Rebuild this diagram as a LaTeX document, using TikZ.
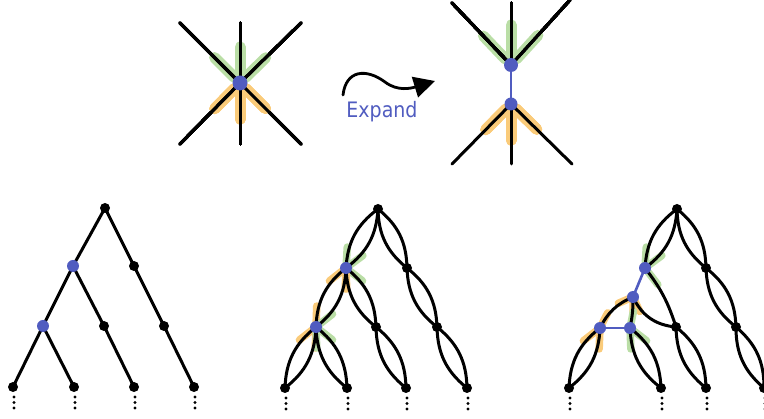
\documentclass[tikz,border=0pt]{standalone}
\usepackage{fontspec}
\usepackage{xcolor}
\usetikzlibrary{calc,arrows.meta}
\newfontfamily\handfont{DejaVu Sans}
\definecolor{vblue}{RGB}{80,92,192}
\definecolor{hgreen}{RGB}{186,222,166}
\definecolor{horange}{RGB}{250,203,122}
\tikzset{
  edge/.style={line width=3pt, line cap=round},
  bedge/.style={line width=2.6pt, line cap=round, draw=vblue},
  hlg/.style={line width=7.5pt, line cap=round, draw=hgreen},
  hlo/.style={line width=7.5pt, line cap=round, draw=horange},
  bighl/.style={line width=11pt},
}
% glow along a half edge: style, vertex, angle, towards, from, to
\newcommand{\glow}[6]{\draw[#1] ($(#2)!#5!#3:(#4)$) -- ($(#2)!#6!#3:(#4)$);}

\begin{document}
\begin{tikzpicture}[x=1pt,y=-1pt]
\clip (0,0) rectangle (764,419);

% one vertex
\coordinate (S) at (240,83);
\coordinate (sa) at (180,23);
\coordinate (sb) at (240,23);
\coordinate (sc) at (301,23);
\coordinate (sd) at (180,144);
\coordinate (se) at (240,144);
\coordinate (sf) at (301,144);
\foreach \e in {sa,sb,sc} \glow{hlg,bighl}{S}{0}{\e}{8pt}{36pt}
\foreach \e in {sd,se,sf} \glow{hlo,bighl}{S}{0}{\e}{8pt}{36pt}
\foreach \e in {sa,sb,sc,sd,se,sf} \draw[edge] (S) -- (\e);
\fill[vblue] (S) circle (7.5pt);

% arrow
\coordinate (arrs) at (343,95);
\coordinate (arre) at (435,81);
\draw[line width=2.8pt, line cap=round, -{Triangle[length=21pt,width=21pt]}] (arrs) .. controls (346,70) and (366,68) .. (385,82) .. controls (398,92) and (412,88) .. (arre);
\node[text=vblue, font=\handfont\fontsize{19}{20}\selectfont, yscale=1.12, transform shape] (lbl) at (382,112) {Expand};

% expanded vertex
\coordinate (T) at (511,65);
\coordinate (U) at (511,104);
\coordinate (ta) at (452,3);
\coordinate (tb) at (511,3);
\coordinate (tc) at (570,0);
\coordinate (ua) at (452,164);
\coordinate (ub) at (511,164);
\coordinate (uc) at (572,164);
\foreach \e in {ta,tb,tc} \glow{hlg,bighl}{T}{0}{\e}{8pt}{40pt}
\foreach \e in {ua,ub,uc} \glow{hlo,bighl}{U}{0}{\e}{7pt}{36pt}
\foreach \e in {ta,tb,tc} \draw[edge] (T) -- (\e);
\foreach \e in {ua,ub,uc} \draw[edge] (U) -- (\e);
\draw[bedge] (T) -- (U);
\fill[vblue] (T) circle (7pt);
\fill[vblue] (U) circle (6.5pt);

% tree 1
\coordinate (r1) at (105,208);
\coordinate (p1) at (73,266);
\coordinate (q1) at (134,266);
\coordinate (s1) at (43,326);
\coordinate (t1) at (104,326);
\coordinate (u1) at (164,326);
\coordinate (a1) at (13,387);
\coordinate (b1) at (74,387);
\coordinate (c1) at (134,387);
\coordinate (d1) at (194,387);
\foreach \a/\b in {r1/p1,r1/q1,p1/s1,p1/t1,q1/u1,s1/a1,s1/b1,t1/c1,u1/d1}
  \draw[edge] (\a) -- (\b);
\foreach \v in {r1,q1,t1,u1,a1,b1,c1,d1} \fill (\v) circle (5pt);
\foreach \v in {p1,s1} \fill[vblue] (\v) circle (6pt);

% tree 2
\coordinate (r2) at (378,209);
\coordinate (p2) at (346,268);
\coordinate (q2) at (407,268);
\coordinate (s2) at (316,327);
\coordinate (t2) at (376,327);
\coordinate (u2) at (437,327);
\coordinate (a2) at (285,388);
\coordinate (b2) at (347,388);
\coordinate (c2) at (406,388);
\coordinate (d2) at (467,388);
\glow{hlg}{p2}{25}{r2}{5pt}{21pt}
\glow{hlg}{p2}{-25}{r2}{5pt}{21pt}
\glow{hlg}{p2}{25}{t2}{5pt}{21pt}
\glow{hlo}{p2}{25}{s2}{5pt}{21pt}
\glow{hlo}{p2}{-25}{s2}{5pt}{21pt}
\glow{hlo}{p2}{-25}{t2}{5pt}{21pt}
\glow{hlo}{s2}{25}{p2}{5pt}{21pt}
\glow{hlo}{s2}{25}{a2}{5pt}{21pt}
\glow{hlo}{s2}{-25}{a2}{5pt}{21pt}
\glow{hlg}{s2}{-25}{p2}{5pt}{21pt}
\glow{hlg}{s2}{25}{b2}{5pt}{21pt}
\glow{hlg}{s2}{-25}{b2}{5pt}{21pt}
\foreach \a/\b in {r2/p2,r2/q2,p2/s2,p2/t2,q2/u2,s2/a2,s2/b2,t2/c2,u2/d2}
  \draw[edge] (\a) to[bend left=25] (\b) (\a) to[bend right=25] (\b);
\foreach \v in {r2,q2,t2,u2,a2,b2,c2,d2} \fill (\v) circle (5pt);
\foreach \v in {p2,s2} \fill[vblue] (\v) circle (6pt);

% tree 3
\coordinate (r3) at (677,209);
\coordinate (p3) at (645,268);
\coordinate (q3) at (706,268);
\coordinate (m3) at (633,297);
\coordinate (sa3) at (600,328);
\coordinate (sb3) at (630,328);
\coordinate (t3) at (676,327);
\coordinate (u3) at (736,327);
\coordinate (a3) at (569,388);
\coordinate (b3) at (661,388);
\coordinate (c3) at (706,388);
\coordinate (d3) at (764,388);
\glow{hlg}{p3}{25}{r3}{5pt}{21pt}
\glow{hlg}{p3}{-25}{r3}{5pt}{21pt}
\glow{hlg}{p3}{10}{t3}{5pt}{21pt}
\glow{hlo}{m3}{-20}{sa3}{4pt}{16pt}
\glow{hlo}{m3}{6}{sb3}{4pt}{16pt}
\glow{hlo}{m3}{-30}{t3}{4pt}{16pt}
\glow{hlo}{sa3}{20}{m3}{5pt}{17pt}
\glow{hlo}{sa3}{25}{a3}{5pt}{21pt}
\glow{hlo}{sa3}{-25}{a3}{5pt}{21pt}
\glow{hlg}{sb3}{-6}{m3}{5pt}{17pt}
\glow{hlg}{sb3}{25}{b3}{5pt}{21pt}
\glow{hlg}{sb3}{-25}{b3}{5pt}{21pt}
\foreach \a/\b in {r3/p3,r3/q3,q3/u3,u3/d3,sa3/a3,sb3/b3,t3/c3}
  \draw[edge] (\a) to[bend left=25] (\b) (\a) to[bend right=25] (\b);
\draw[edge] (p3) to[bend left=10] (t3);
\draw[edge] (m3) to[bend right=30] (t3);
\draw[edge] (m3) to[bend right=20] (sa3);
\draw[edge] (m3) to[bend left=6] (sb3);
\draw[bedge] (p3) -- (m3);
\draw[bedge] (sa3) -- (sb3);
\foreach \v in {r3,q3,t3,u3,a3,b3,c3,d3} \fill (\v) circle (5pt);
\foreach \v in {p3,m3,sa3,sb3} \fill[vblue] (\v) circle (6pt);

% dots under the leaves
\foreach \v in {a1,b1,c1,d1,a2,b2,c2,d2,a3,b3,c3,d3}
  \foreach \k in {0,1,2} \fill ($(\v)+(1,10+5.5*\k)$) circle (1.7pt);
\end{tikzpicture}
\end{document}
